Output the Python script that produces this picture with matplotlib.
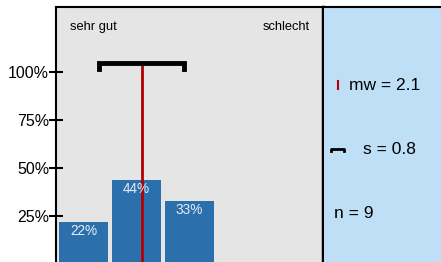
import numpy as np
import matplotlib
matplotlib.use("Agg")
import matplotlib.pyplot as plt

plt.rcParams["font.family"] = ["Liberation Sans", "DejaVu Sans"]

# ── Data ──
categories = [1, 2, 3, 4, 5]
shares = [0.22, 0.44, 0.33, 0.0, 0.0]
bar_labels = ["22%", "44%", "33%", "", ""]
mean_value = 2.1
std_value = 0.8
n_value = 9
yticks = [0.25, 0.50, 0.75, 1.00]
ytick_labels = ["25%", "50%", "75%", "100%"]

W, H = 441, 262
fig = plt.figure(figsize=(W / 100, H / 100), dpi=100)

# ── Main panel ──
ax = fig.add_axes([56 / W, 0, 267 / W, 255 / H])
ax.set_facecolor("#e5e5e5")
ax.bar(categories, shares, width=0.92, color="#2b6fad", zorder=2)
for x, v, lab in zip(categories, shares, bar_labels):
    if lab:
        ax.text(x, v - 0.05, lab, ha="center", va="center",
                color="#e8eef6", fontsize=9.8, zorder=4)

# mean line + sd bracket
ax.plot([mean_value, mean_value], [0, 1.035], color="#b20000", lw=2, zorder=3)
lo, hi = mean_value - std_value, mean_value + std_value
ax.plot([lo, lo, hi, hi], [1.018, 1.046, 1.046, 1.018], color="black", lw=3.5,
        solid_joinstyle="miter", zorder=5)

ax.text(0.74, 1.234, "sehr gut", ha="left", va="center", fontsize=9.3)
ax.text(5.27, 1.234, "schlecht", ha="right", va="center", fontsize=9.3)

ax.set_xlim(0.48, 5.52)
ax.set_ylim(0.0104, 1.339)
ax.set_xticks([])
ax.set_yticks(yticks)
ax.set_yticklabels(ytick_labels, fontsize=11.5)
ax.tick_params(axis="y", direction="inout", length=10, width=1.5, pad=0)
ax.spines["bottom"].set_visible(False)
ax.spines["left"].set_linewidth(1.5)
ax.spines["top"].set_linewidth(1.5)
ax.spines["right"].set_linewidth(2.5)

# ── Legend panel ──
lg = fig.add_axes([324 / W, 0, 117 / W, 255 / H])
lg.set_facecolor("#bfdff6")
lg.set_xlim(0, 117)
lg.set_ylim(255, 0)
lg.set_xticks([])
lg.set_yticks([])
for side in ["bottom", "right", "left"]:
    lg.spines[side].set_visible(False)
lg.spines["top"].set_linewidth(1.5)

lg.plot([14, 14], [74, 82], color="#b20000", lw=1.5)
lg.text(25, 78, f"mw = {mean_value}", ha="left", va="center", fontsize=12.5)
lg.plot([7, 7, 20, 20], [144, 141.5, 141.5, 144], color="black", lw=2)
lg.text(39, 143, f"s = {std_value}", ha="left", va="center", fontsize=12.5)
lg.text(10, 206, f"n = {n_value}", ha="left", va="center", fontsize=12.5)

fig.savefig("out.png", dpi=100)
